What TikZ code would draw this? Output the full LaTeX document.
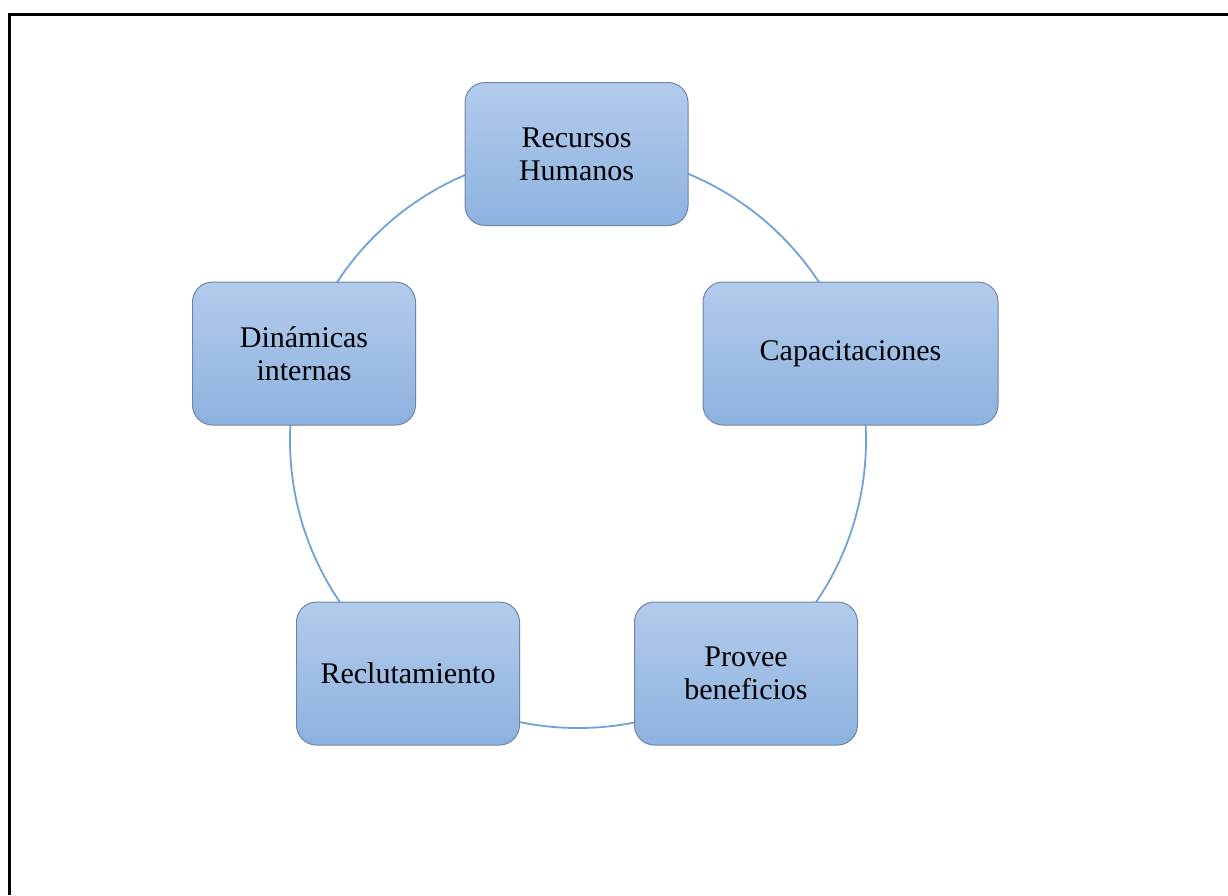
\documentclass[tikz,border=0pt]{standalone}
\usepackage{fontspec}
\setmainfont{Liberation Serif}
\definecolor{boxtop}{HTML}{B3CBEC}
\definecolor{boxbot}{HTML}{8DB2DF}
\definecolor{boxline}{HTML}{6F86A6}
\definecolor{ringcol}{HTML}{6FA3D8}
\tikzset{
  stagebox/.style={rectangle, rounded corners=20pt, draw=boxline, line width=1pt,
    top color=boxtop, bottom color=boxbot, minimum width=223pt, minimum height=143pt,
    align=center, inner sep=4pt, font=\fontsize{30}{33}\selectfont},
  ringline/.style={draw=ringcol, line width=1.8pt},
  frameline/.style={draw=black, line width=3pt}
}
\begin{document}
\begin{tikzpicture}[x=1pt,y=-1pt]
\useasboundingbox (0,0) rectangle (1228,895);
\fill[white] (0,0) rectangle (1228,895);
\coordinate (fa) at (9.5,895);
\coordinate (fb) at (9.5,14);
\coordinate (fc) at (1228,14);
\draw[frameline] (fa) -- (fb) -- (fc);
\coordinate (ctr) at (578,440);
\draw[ringline] (ctr) circle[radius=288pt];
\node[stagebox] (rh) at (576.5,154) {Recursos\\Humanos};
\node[stagebox, minimum width=295pt] (cap) at (850.5,353.5) {Capacitaciones};
\node[stagebox] (prov) at (746,673.5) {Provee\\beneficios};
\node[stagebox] (rec) at (408,673.5) {Reclutamiento};
\node[stagebox] (din) at (304,353.5) {Dinámicas\\internas};
\end{tikzpicture}
\end{document}
